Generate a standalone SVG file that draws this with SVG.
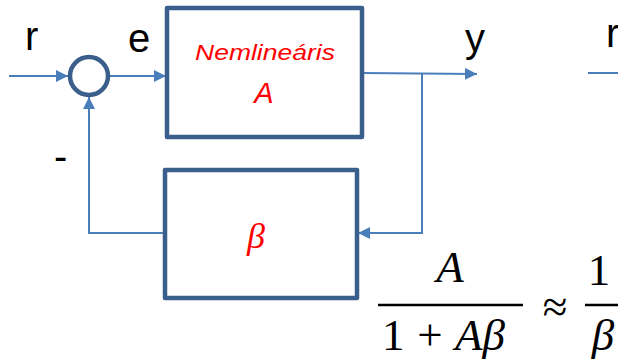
<svg xmlns="http://www.w3.org/2000/svg" width="618" height="363" viewBox="0 0 618 363">
<defs>
<marker id="ah" viewBox="0 0 10 10" refX="10" refY="5" markerWidth="12" markerHeight="12" markerUnits="userSpaceOnUse" orient="auto">
<path d="M0,0 L10,5 L0,10 z" fill="#4A7EBB"/>
</marker>
<style>
.blk{fill:#fff;stroke:#3B5F8D;stroke-width:4.5;stroke-linejoin:round}
.ln{fill:none;stroke:#4A7EBB;stroke-width:2}
.lbl{font-family:"Liberation Sans",Arial,sans-serif;font-size:40px;fill:#000}
.red{font-family:"Liberation Sans",Arial,sans-serif;font-style:italic;fill:#FF0000}
.redm{font-family:"Liberation Serif","DejaVu Serif",serif;font-style:italic;fill:#FF0000}
.math{font-family:"Liberation Serif","DejaVu Serif",serif;font-size:45px;fill:#000}
</style>
</defs>
<rect width="618" height="363" fill="#fff"/>
<g id="connectors">
<line class="ln" x1="9" y1="76" x2="68" y2="76" marker-end="url(#ah)"/>
<line class="ln" x1="110" y1="76" x2="166" y2="76" marker-end="url(#ah)"/>
<line class="ln" x1="362" y1="73" x2="477" y2="74" marker-end="url(#ah)"/>
<polyline class="ln" points="422,74 422,233 358,233" marker-end="url(#ah)"/>
<polyline class="ln" points="165,233 89,233 89,97" marker-end="url(#ah)"/>
<line class="ln" x1="588" y1="73" x2="618" y2="73"/>
</g>
<g id="sum">
<circle cx="89" cy="76" r="19" fill="#fff" stroke="#3B5F8D" stroke-width="4.5"/>
</g>
<g id="blockA">
<rect class="blk" x="167" y="8" width="195" height="129"/>
<text class="red" x="195" y="60" font-size="22" textLength="140" lengthAdjust="spacingAndGlyphs">Nemlineáris</text>
<text class="red" x="264" y="103" font-size="29" text-anchor="middle">A</text>
</g>
<g id="blockBeta">
<rect class="blk" x="165" y="170" width="192" height="128"/>
<text class="redm" x="256" y="248" font-size="36" text-anchor="middle">β</text>
</g>
<g id="labels">
<text class="lbl" x="25" y="50">r</text>
<text class="lbl" x="128" y="52">e</text>
<text class="lbl" x="465" y="52">y</text>
<text class="lbl" x="54" y="170">-</text>
<text class="lbl" x="606" y="47">r</text>
</g>
<g id="formula">
<text class="math" x="450" y="282" font-size="39" text-anchor="middle" font-style="italic">A</text>
<line x1="378" y1="305" x2="523" y2="305" stroke="#000" stroke-width="2.5"/>
<text class="math" x="382" y="350">1</text>
<text class="math" x="430" y="350" font-size="50" text-anchor="middle">+</text>
<text class="math" x="455" y="350" font-style="italic">Aβ</text>
<text class="math" x="555" y="322" font-size="66" text-anchor="middle">≈</text>
<text class="math" x="599" y="285" text-anchor="middle">1</text>
<line x1="585" y1="305" x2="618" y2="305" stroke="#000" stroke-width="2.5"/>
<text class="math" x="603" y="350" text-anchor="middle" font-style="italic">β</text>
</g>
</svg>
